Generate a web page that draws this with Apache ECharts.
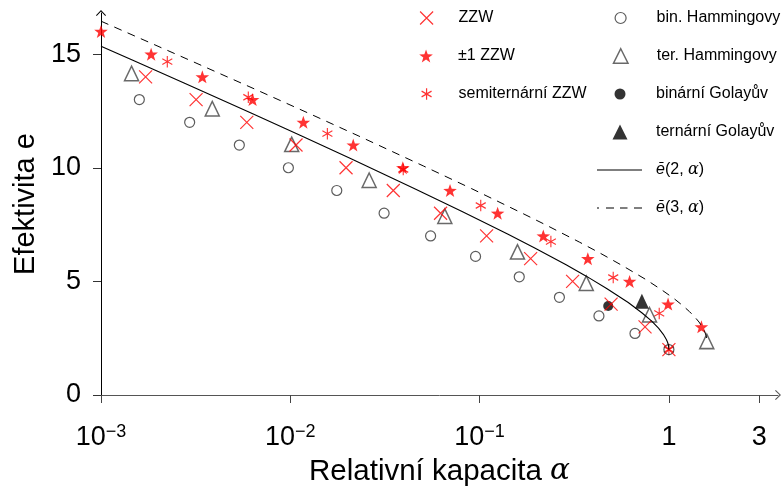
<!DOCTYPE html>
<html><head><meta charset="utf-8">
<script src="https://cdn.jsdelivr.net/npm/echarts@6/dist/echarts.min.js"></script>
<style>html,body{margin:0;padding:0;background:#fff}#c{width:782px;height:489px}</style>
</head><body><div id="c"></div>
<script>
// ---- data ----
const zzwAlpha = [0.00172, 0.00318, 0.00589, 0.01072, 0.0197, 0.035, 0.0622, 0.1089, 0.186, 0.310, 0.495, 0.748, 1.0];
const zzwE     = [14, 13, 12, 11, 10, 9, 8, 7, 6, 5, 4, 3, 2];

const pm1Alpha = [0.001, 0.00184, 0.00343, 0.00632, 0.01172, 0.0215, 0.0393, 0.0698, 0.1245, 0.217, 0.373, 0.62, 0.99, 1.485];
const pm1E     = [16, 15, 14, 13, 12, 11, 10, 9, 8, 7, 6, 5, 4, 3];

const semiAlpha = [0.00224, 0.0060, 0.0157, 0.0395, 0.1014, 0.238, 0.508, 0.889, 1.0];
const semiE     = [14.67, 13.1, 11.5, 9.92, 8.34, 6.75, 5.17, 3.59, 2];

const binHamAlpha = [0.001594, 0.00294, 0.00538, 0.00977, 0.0176, 0.0313, 0.0551, 0.0952, 0.162, 0.264, 0.427, 0.662, 1.0];
const binHamE     = [13, 12, 11, 10, 9, 8, 7, 6.1, 5.2, 4.3, 3.48, 2.71, 2];

const terHamAlpha = [0.00145, 0.00387, 0.01017, 0.0261, 0.0655, 0.1585, 0.366, 0.79, 1.585];
const terHamE     = [14.15, 12.6, 11.03, 9.45, 7.87, 6.3, 4.92, 3.53, 2.36];

const binGolayAlpha = [0.478];
const binGolayE     = [3.92];
const terGolayAlpha = [0.72];
const terGolayE     = [4.12];

const eBar2Alpha = [0.001, 0.001473, 0.002746, 0.006204, 0.01141, 0.02081, 0.04542, 0.08079, 0.1414, 0.1944, 0.2864, 0.3659, 0.469, 0.6098, 0.7219, 0.8113, 0.8813, 0.9341, 0.971, 0.9837, 0.9928, 0.9974, 1.0];
const eBar2      = [15.35, 14.73, 13.73, 12.41, 11.41, 10.41, 9.08, 8.08, 7.07, 6.48, 5.73, 5.23, 4.69, 4.07, 3.61, 3.25, 2.94, 2.67, 2.43, 2.32, 2.21, 2.12, 2.0];

const eBar3Alpha = [0.001, 0.001573, 0.002946, 0.006704, 0.01241, 0.02281, 0.05042, 0.09079, 0.1614, 0.2244, 0.3364, 0.4359, 0.569, 0.7598, 0.9219, 1.0613, 1.1813, 1.2841, 1.371, 1.4428, 1.5, 1.5428, 1.571, 1.5814, 1.585];
const eBar3      = [16.45, 15.73, 14.73, 13.41, 12.41, 11.41, 10.08, 9.08, 8.07, 7.48, 6.73, 6.23, 5.69, 5.07, 4.61, 4.25, 3.94, 3.67, 3.43, 3.21, 3.0, 2.81, 2.62, 2.5, 2.38];

const xTickValues = [0.001, 0.01, 0.1, 1, 3];
const xTickBase   = ['10', '10', '10', '1', '3'];
const xTickExp    = ['−3', '−2', '−1', '', ''];
const yTickValues = [0, 5, 10, 15];

const names = {
  zzw: 'ZZW', pm1: '±1 ZZW', semi: 'semiternární ZZW',
  binHam: 'bin. Hammingovy', terHam: 'ter. Hammingovy',
  binGolay: 'binární Golayův', terGolay: 'ternární Golayův',
  e2: 'ē(2, α)', e3: 'ē(3, α)'
};

// ---- styling ----
const FONT = 'Liberation Sans';
const RED = '#ff0000';
const xPath = 'path://M0,0L1,1M1,0L0,1';
const starPath = 'path://M0,-1L0.2351,-0.3236L0.9511,-0.309L0.3804,0.1236L0.5878,0.809L0,0.4L-0.5878,0.809L-0.3804,0.1236L-0.9511,-0.309L-0.2351,-0.3236Z';
const astPath = 'path://M0,-1L0,1M-0.866,-0.5L0.866,0.5M-0.866,0.5L0.866,-0.5';
const circlePath = 'path://M0,5A5,5,0,1,1,10,5A5,5,0,1,1,0,5Z';
const triPath = 'path://M5,0L10,10L0,10Z';
const solidPath = 'path://M0,0H45V1.1H0Z';
const dashPath = 'path://M0,0H2V1H0Z M9,0H17V1H9Z M23,0H30.5V1H23Z M37,0H45V1H37Z';
const arrowPath = 'path://M5,0L10,5.2L9.3,6L5,1.5L0.7,6L0,5.2Z';

const zip = (a, b) => a.map((v, i) => [v, b[i]]);
const strokeRed = { color: 'transparent', borderColor: RED, borderWidth: 1.2 };

const legendRich = {
  t: { fontFamily: FONT, fontSize: 16, color: '#000' },
  i: { fontFamily: FONT, fontSize: 16, color: '#000', fontStyle: 'italic' },
  a: { fontFamily: 'DejaVu Serif', fontSize: 16, color: '#000', fontStyle: 'italic' },
  sp: { width: 9 }
};
function legendFmt(name) {
  if (name === names.e2) return '{sp| }{i|ē}{t|(2, }{a|α}{t|)}';
  if (name === names.e3) return '{sp| }{i|ē}{t|(3, }{a|α}{t|)}';
  return '{t|' + name + '}';
}
// left = left edge of the visible icon; cy = row centre
function mkLegend(name, icon, itemStyle, left, cy, w, h) {
  return {
    data: [{ name: name, icon: icon, itemStyle: itemStyle }],
    left: left, top: cy - 8, itemWidth: w, itemHeight: h,
    padding: 0, itemGap: 0, selectedMode: false, orient: 'horizontal',
    formatter: legendFmt,
    textStyle: { fontFamily: FONT, fontSize: 16, color: '#000', rich: legendRich }
  };
}
const rowY = [18, 56, 94, 132, 170, 208];

const legends = [
  mkLegend(names.zzw, xPath, strokeRed, 419.5, rowY[0], 54, 13),
  mkLegend(names.pm1, starPath, { color: RED, borderWidth: 0 }, 419.2, rowY[1], 54, 13),
  mkLegend(names.semi, astPath, strokeRed, 421, rowY[2], 54, 11.5),
  mkLegend(names.binHam, circlePath, { color: 'transparent', borderColor: '#333', borderWidth: 1.2 }, 614.5, rowY[0], 62, 11),
  mkLegend(names.terHam, triPath, { color: 'transparent', borderColor: '#444', borderWidth: 1.5 }, 612.75, rowY[1], 62, 14.5),
  mkLegend(names.binGolay, circlePath, { color: '#000', borderWidth: 0 }, 614.5, rowY[2], 62, 11),
  mkLegend(names.terGolay, triPath, { color: '#000', borderWidth: 0 }, 612.5, rowY[3], 62, 15),
  mkLegend(names.e2, solidPath, { color: '#000', borderWidth: 0 }, 597, rowY[4], 45, 12),
  mkLegend(names.e3, dashPath, { color: '#000', borderWidth: 0 }, 597, rowY[5], 45, 12)
];

function xLabelFmt(v) {
  let best = 0, bd = 1e9;
  for (let i = 0; i < xTickValues.length; i++) {
    const d = Math.abs(Math.log10(v) - Math.log10(xTickValues[i]));
    if (d < bd) { bd = d; best = i; }
  }
  return xTickExp[best] ? '{b|' + xTickBase[best] + '}{s|' + xTickExp[best] + '}' : '{b|' + xTickBase[best] + '}';
}

const chart = echarts.init(document.getElementById('c'), null, { renderer: 'canvas' });
chart.setOption({
  animation: false,
  backgroundColor: '#fff',
  grid: { left: 101, right: 4, top: 13, bottom: 94, containLabel: false, outerBoundsMode: 'none' },
  legend: legends,
  xAxis: {
    type: 'log', logBase: 10, min: 0.001, max: 3.77,
    axisLine: { show: true, onZero: false, lineStyle: { color: '#555', width: 1 }, symbol: ['none', arrowPath], symbolSize: [10, 6] },
    axisTick: { show: true, length: 8, customValues: xTickValues, lineStyle: { color: '#444' } },
    minorTick: { show: false },
    splitLine: { show: false },
    axisLabel: {
      customValues: xTickValues, margin: 28, formatter: xLabelFmt,
      rich: {
        b: { fontFamily: FONT, fontSize: 27, color: '#000', lineHeight: 30 },
        s: { fontFamily: FONT, fontSize: 18, color: '#000', lineHeight: 16, verticalAlign: 'top' }
      }
    },
    name: '{t|Relativní kapacita }{a|α}', nameLocation: 'middle', nameGap: 59,
    nameTextStyle: {
      rich: {
        t: { fontFamily: FONT, fontSize: 29.5, color: '#000' },
        a: { fontFamily: 'DejaVu Serif', fontSize: 29.5, color: '#000', fontStyle: 'italic' }
      }
    }
  },
  yAxis: {
    type: 'value', min: 0, max: 16.81,
    axisLine: { show: true, onZero: false, lineStyle: { color: '#000', width: 1 }, symbol: ['none', arrowPath], symbolSize: [10, 6] },
    axisTick: { show: true, length: 8, customValues: yTickValues, lineStyle: { color: '#333' } },
    splitLine: { show: false },
    axisLabel: { customValues: yTickValues, margin: 20, fontFamily: FONT, fontSize: 27, color: '#000' },
    name: 'Efektivita e', nameLocation: 'middle', nameGap: 61,
    nameTextStyle: { fontFamily: FONT, fontSize: 29, color: '#000' }
  },
  series: [
    { name: names.e2, type: 'line', data: zip(eBar2Alpha, eBar2), symbol: 'none', lineStyle: { color: '#000', width: 1.1 }, itemStyle: { color: '#000' } },
    { name: names.e3, type: 'line', data: zip(eBar3Alpha, eBar3), symbol: 'none', lineStyle: { color: '#000', width: 1, type: [8, 6.5] }, itemStyle: { color: '#000' } },
    { name: names.semi, type: 'scatter', data: zip(semiAlpha, semiE), symbol: astPath, symbolSize: [10, 11.5], itemStyle: strokeRed },
    { name: names.pm1, type: 'scatter', data: zip(pm1Alpha, pm1E), symbol: starPath, symbolSize: [13.6, 13], itemStyle: { color: RED } },
    { name: names.terHam, type: 'scatter', data: zip(terHamAlpha, terHamE), symbol: 'triangle', symbolSize: [14, 14.5], itemStyle: { color: 'transparent', borderColor: '#444', borderWidth: 1.5 } },
    { name: names.binHam, type: 'scatter', data: zip(binHamAlpha, binHamE), symbol: 'circle', symbolSize: 10, itemStyle: { color: 'transparent', borderColor: '#333', borderWidth: 1.2 } },
    { name: names.binGolay, type: 'scatter', data: zip(binGolayAlpha, binGolayE), symbol: 'circle', symbolSize: 10, itemStyle: { color: '#000' } },
    { name: names.terGolay, type: 'scatter', data: zip(terGolayAlpha, terGolayE), symbol: 'triangle', symbolSize: [14, 15], itemStyle: { color: '#000' } },
    { name: names.zzw, type: 'scatter', data: zip(zzwAlpha, zzwE), symbol: xPath, symbolSize: 13, itemStyle: strokeRed }
  ]
});
</script>
</body></html>
